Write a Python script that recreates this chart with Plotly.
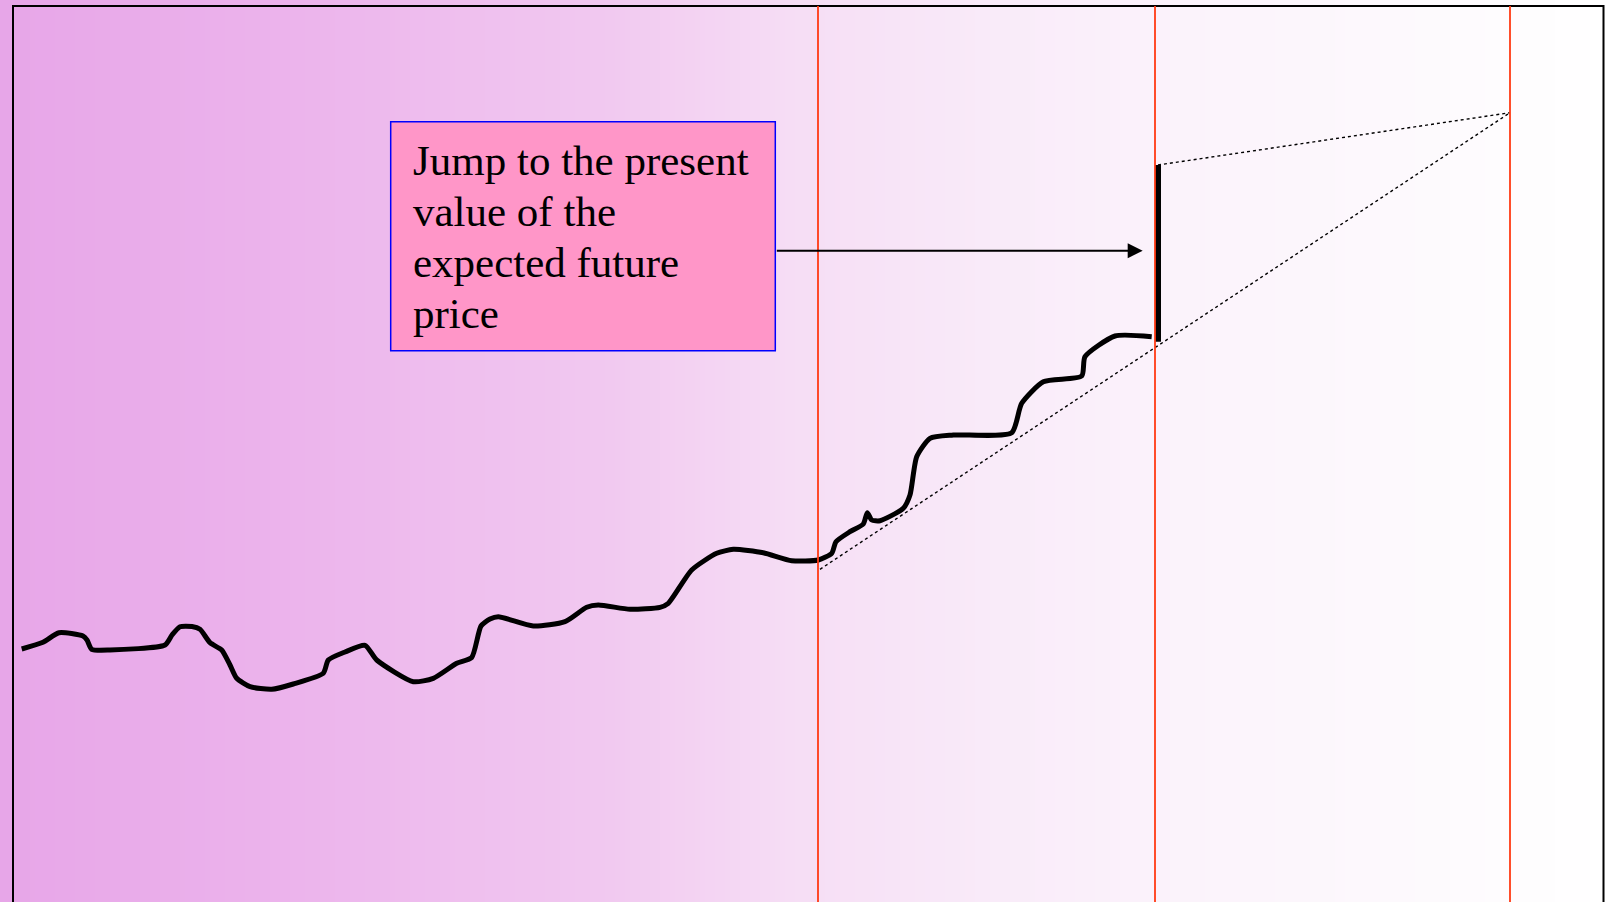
import numpy as np
import plotly.graph_objects as go

W, H = 1609, 902

# ---- data (x = time axis, y = price level; both in chart units) ----
path_t = [21.7, 43, 59, 83, 87, 91.7, 110, 165, 172, 180, 192, 200, 210, 221.7, 230, 236.7,
          250, 271.7, 293.3, 323.3, 328.3, 345, 365, 376.7, 413.3, 433.3, 456.7, 471.7, 481,
          490, 498.3, 533.3, 565, 586.7, 598.3, 630, 660, 668.3, 691.7, 716.7, 733.3, 763.3,
          791.7, 818.3, 831.7, 836, 850, 863.3, 867.3, 871.7, 880, 903.3, 910, 916.7, 930,
          953.3, 1011.7, 1021.7, 1043.3, 1081.7, 1085, 1115, 1151.7]
path_px = [649, 642.3, 632.7, 636, 640, 649.3, 650, 645, 635, 626.7, 626.5, 629.3, 642.7, 650,
           665, 678.3, 686.7, 689.3, 684, 673.3, 660, 652, 645.3, 660, 681.7, 678.3, 663.3,
           657.5, 626, 619, 616.7, 626, 621.7, 607.3, 605, 609.3, 607.3, 603.3, 570, 553.3,
           549.3, 552.7, 560.7, 560, 553.3, 541.7, 531.7, 524, 512.7, 520, 520.7, 508.3, 495,
           456.7, 438.3, 435, 432.7, 403.3, 381.7, 376, 356.7, 336, 336.7]
path_price = [H - v for v in path_px]

event_times = [818, 1155, 1510]          # red vertical lines
jump_time = 1158
jump_price = [H - 341.7, H - 165]        # from / to
trend_t = [820, 1510]                    # expected path (dotted)
trend_price = [H - 569.3, H - 112.7]
pv_t = [1158, 1510]                      # discounting line (dotted)
pv_price = [H - 165, H - 112.7]

text_lines = ["Jump to the present", "value of the", "expected future", "price"]

# ---- background gradient ----
grad_stops = [(0, (231, 166, 232)), (300, (236, 180, 236)), (600, (241, 200, 240)),
              (800, (246, 222, 245)), (1000, (249, 235, 249)), (1150, (251, 242, 251)),
              (1400, (253, 249, 253)), (1609, (255, 255, 255))]
colorscale = [[p / W, "rgb(%d,%d,%d)" % c] for p, c in grad_stops]
gx = np.arange(2.5, W, 5)

fig = go.Figure()
fig.add_trace(go.Heatmap(x=gx, y=[0, H], z=[gx, gx], colorscale=colorscale,
                         zmin=0, zmax=W, showscale=False, hoverinfo="skip"))

# border (left, top, right)
fig.add_shape(type="rect", x0=13, x1=1603.5, y0=-50, y1=H - 6,
              line=dict(color="black", width=2), fillcolor="rgba(0,0,0,0)")

# red event lines
for t in event_times:
    fig.add_shape(type="line", x0=t, x1=t, y0=-50, y1=H - 6,
                  line=dict(color="#FF3A14", width=1.8))

# dotted lines
fig.add_trace(go.Scatter(x=trend_t, y=trend_price, mode="lines",
                         line=dict(color="black", width=1.4, dash="dot"), hoverinfo="skip"))
fig.add_trace(go.Scatter(x=pv_t, y=pv_price, mode="lines",
                         line=dict(color="black", width=1.4, dash="dot"), hoverinfo="skip"))

# price path
fig.add_trace(go.Scatter(x=path_t, y=path_price, mode="lines",
                         line=dict(color="black", width=5, shape="spline", smoothing=0.6),
                         hoverinfo="skip"))

# jump bar
fig.add_trace(go.Scatter(x=[jump_time, jump_time], y=jump_price, mode="lines",
                         line=dict(color="black", width=6), hoverinfo="skip"))

# text box
box_x0, box_x1, box_y0, box_y1 = 390.7, 775.3, H - 350.7, H - 121.7
fig.add_shape(type="rect", x0=box_x0, x1=box_x1, y0=box_y0, y1=box_y1,
              fillcolor="rgb(255,150,200)", line=dict(color="#0000FF", width=1.5))
for i, line in enumerate(text_lines):
    fig.add_annotation(x=411, y=H - (160.5 + 51.1 * i), xref="x", yref="y",
                       text=line, showarrow=False, xanchor="left", yanchor="middle",
                       font=dict(family="Liberation Serif", size=43, color="black"))

# arrow
fig.add_annotation(x=1142.7, y=H - 250.7, ax=box_x1, ay=H - 250.7,
                   xref="x", yref="y", axref="x", ayref="y", text="",
                   showarrow=True, arrowhead=2, arrowsize=1.5, arrowwidth=2,
                   arrowcolor="black", standoff=0)

fig.update_layout(width=W, height=H, margin=dict(l=0, r=0, t=0, b=0),
                  showlegend=False, plot_bgcolor="white", paper_bgcolor="white",
                  xaxis=dict(range=[0, W], visible=False, fixedrange=True),
                  yaxis=dict(range=[0, H], visible=False, fixedrange=True))

fig.write_html("out.html", config={"displayModeBar": False},
               post_script="document.body.style.margin='0';document.body.style.overflow='hidden';")
